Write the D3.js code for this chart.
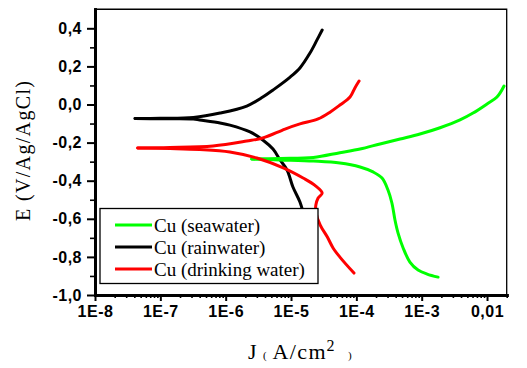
<!DOCTYPE html>
<html>
<head>
<meta charset="utf-8">
<script src="https://cdn.jsdelivr.net/npm/d3@7/dist/d3.min.js"></script>
<style>
  body { margin: 0; background: #fff; }
  .axis text { font-family: "Liberation Sans", Arial, sans-serif; font-weight: bold; font-size: 16px; letter-spacing: 0.5px; fill: #000; }
  .axis .domain { stroke: #000; stroke-width: 3; stroke-linecap: square; }
  .axis .tick line { stroke: #000; stroke-width: 2; }
  .minor .tick line { stroke-width: 1.6; }
  .curve { fill: none; stroke-width: 3; stroke-linejoin: round; stroke-linecap: round; }
  .serif { font-family: "Liberation Serif", "Times New Roman", serif; fill: #000; }
</style>
</head>
<body>
<div id="graph"></div>
<script>

// Cu (seawater): cathodic branch (from end to Ecorr) then anodic branch
var seaCathJ = [1.78e-3, 1.21e-3, 8.8e-4, 6.6e-4, 5.2e-4, 4.35e-4, 3.9e-4, 3.5e-4, 3.05e-4, 2.47e-4, 1.8e-4, 1.14e-4, 5.6e-5, 2.2e-5, 6.8e-6, 2.5e-6];
var seaCathE = [-0.906, -0.890, -0.869, -0.827, -0.753, -0.675, -0.606, -0.517, -0.449, -0.386, -0.354, -0.328, -0.307, -0.297, -0.291, -0.286];
var seaAnJ   = [2.5e-6, 6.8e-6, 2.2e-5, 5.6e-5, 1.14e-4, 2.3e-4, 4.67e-4, 9.4e-4, 1.91e-3, 3.86e-3, 6.1e-3, 1.0e-2, 1.42e-2, 1.82e-2];
var seaAnE   = [-0.286, -0.283, -0.278, -0.253, -0.234, -0.207, -0.181, -0.155, -0.122, -0.081, -0.045, 0.003, 0.039, 0.097];

// Cu (rainwater)
var rainCathJ = [1.64e-5, 1.37e-5, 1.07e-5, 8.7e-6, 6.8e-6, 5.3e-6, 3.7e-6, 2.36e-6, 1.16e-6, 8.2e-7, 4.0e-7, 3.2e-7, 9.9e-8, 4.1e-8];
var rainCathE = [-0.606, -0.512, -0.433, -0.344, -0.291, -0.234, -0.186, -0.144, -0.108, -0.097, -0.081, -0.076, -0.075, -0.074];
var rainAnJ   = [4.1e-8, 9.9e-8, 3.2e-7, 8.2e-7, 2.1e-6, 3.7e-6, 5.3e-6, 9.7e-6, 1.37e-5, 1.95e-5, 2.5e-5, 3.0e-5];
var rainAnE   = [-0.074, -0.072, -0.068, -0.045, -0.008, 0.039, 0.076, 0.144, 0.192, 0.270, 0.339, 0.391];

// Cu (drinking water)
var drinkCathJ = [9.2e-5, 5.6e-5, 4.4e-5, 3.6e-5, 2.8e-5, 2.4e-5, 2.4e-5, 2.6e-5, 3.0e-5, 2.3e-5, 1.53e-5, 7.6e-6, 3.0e-6, 1.16e-6, 4.0e-7, 1.4e-7, 4.5e-8];
var drinkCathE = [-0.885, -0.801, -0.753, -0.696, -0.633, -0.564, -0.528, -0.491, -0.465, -0.423, -0.386, -0.333, -0.281, -0.249, -0.236, -0.231, -0.228];
var drinkAnJ   = [4.5e-8, 1.4e-7, 6.4e-7, 2.1e-6, 3.7e-6, 8.1e-6, 1.37e-5, 2.6e-5, 4.0e-5, 5.6e-5, 8.0e-5, 9.5e-5, 1.1e-4];
var drinkAnE   = [-0.228, -0.226, -0.218, -0.192, -0.176, -0.129, -0.102, -0.076, -0.039, -0.003, 0.039, 0.087, 0.123];

var seriesNames  = ['Cu (seawater)', 'Cu (rainwater)', 'Cu (drinking water)'];
var seriesColors = ['#00ff00', '#000000', '#ff0000'];

var xTickValues = [1e-8, 1e-7, 1e-6, 1e-5, 1e-4, 1e-3, 1e-2];
var xTickLabels = ['1E-8', '1E-7', '1E-6', '1E-5', '1E-4', '1E-3', '0,01'];
var yTickValues = [-1.0, -0.8, -0.6, -0.4, -0.2, 0.0, 0.2, 0.4];
var yTickLabels = ['-1,0', '-0,8', '-0,6', '-0,4', '-0,2', '0,0', '0,2', '0,4'];


function zip (J, E)
{
    return J.map(function (j, i) { return { J: j, E: E[i] }; });
}

var series = [
    { branches: [zip(seaCathJ, seaCathE),     zip(seaAnJ, seaAnE)] },
    { branches: [zip(rainCathJ, rainCathE),   zip(rainAnJ, rainAnE)] },
    { branches: [zip(drinkCathJ, drinkCathE), zip(drinkAnJ, drinkAnE)] }
];

var width  = 527;
var height = 368;
var margin = { top: 9.25, right: 20.3, bottom: 73, left: 95 };

var xScale = d3.scaleLog()
               .domain([1e-8, 0.02])
               .range([margin.left, width - margin.right]);

var yScale = d3.scaleLinear()
               .domain([-1.0, 0.5])
               .range([height - margin.bottom, margin.top]);

var svg = d3.select('#graph')
            .append('svg')
            .attr('width', width)
            .attr('height', height);

// thin frame on top and right
svg.append('path')
   .attr('d', 'M' + xScale(1e-8) + ',' + yScale(0.5) + 'H' + xScale(0.02) + 'V' + yScale(-1.0))
   .attr('fill', 'none')
   .attr('stroke', '#000')
   .attr('stroke-width', 1.3);

var line = d3.line()
             .x(function (d) { return xScale(d.J); })
             .y(function (d) { return yScale(d.E); })
             .curve(d3.curveCatmullRom.alpha(0.5));

// drinking water drawn last, like the reference
[1, 0, 2].forEach(function (s)
{
    series[s].branches.forEach(function (b)
    {
        svg.append('path')
           .datum(b)
           .attr('class', 'curve')
           .attr('stroke', seriesColors[s])
           .attr('d', line);
    });
});

// legend
var legend = svg.append('g').attr('transform', 'translate(100,208.5)');

legend.append('rect')
      .attr('width', 218)
      .attr('height', 75)
      .attr('fill', '#fff')
      .attr('stroke', '#000')
      .attr('stroke-width', 1.3);

seriesNames.forEach(function (name, i)
{
    var yy = 16.5 + i * 22;
    legend.append('line')
          .attr('x1', 15).attr('x2', 52)
          .attr('y1', yy).attr('y2', yy)
          .attr('stroke', seriesColors[i])
          .attr('stroke-width', 3);
    legend.append('text')
          .attr('class', 'serif')
          .attr('x', 54)
          .attr('y', yy + 6.5)
          .attr('font-size', 19)
          .text(name);
});

// axes
var xAxis = d3.axisBottom(xScale)
              .tickValues(xTickValues)
              .tickFormat(function (d, i) { return xTickLabels[i]; })
              .tickSize(6)
              .tickPadding(5)
              .tickSizeOuter(0);

var xMinor = d3.axisBottom(xScale)
               .tickValues(xScale.ticks().filter(function (d) { return xTickValues.indexOf(d) < 0; }))
               .tickFormat('')
               .tickSize(3)
               .tickSizeOuter(0);

var yAxis = d3.axisLeft(yScale)
              .tickValues(yTickValues)
              .tickFormat(function (d, i) { return yTickLabels[i]; })
              .tickSize(8)
              .tickPadding(5)
              .tickSizeOuter(0);

var yMinor = d3.axisLeft(yScale)
               .tickValues(d3.range(-0.9, 0.45, 0.2))
               .tickFormat('')
               .tickSize(5)
               .tickSizeOuter(0);

svg.append('g')
   .attr('class', 'axis minor')
   .attr('transform', 'translate(0,' + yScale(-1.0) + ')')
   .call(xMinor);

svg.append('g')
   .attr('class', 'axis minor')
   .attr('transform', 'translate(' + xScale(1e-8) + ',0)')
   .call(yMinor);

svg.append('g')
   .attr('class', 'axis')
   .attr('transform', 'translate(0,' + yScale(-1.0) + ')')
   .call(xAxis);

svg.append('g')
   .attr('class', 'axis')
   .attr('transform', 'translate(' + xScale(1e-8) + ',0)')
   .call(yAxis);

svg.selectAll('.axis').attr('font-family', null).attr('font-size', null);

// axis titles
svg.append('text')
   .attr('class', 'serif')
   .attr('transform', 'translate(30,151) rotate(-90)')
   .attr('text-anchor', 'middle')
   .attr('font-size', 20)
   .attr('textLength', 140)
   .attr('lengthAdjust', 'spacing')
   .text('E (V/Ag/AgCl)');

var xt = svg.append('g').attr('class', 'serif');
xt.append('text').attr('class', 'serif').attr('x', 248).attr('y', 359).attr('font-size', 22).text('J');
xt.append('text').attr('class', 'serif').attr('x', 263).attr('y', 359).attr('font-size', 11).text('(');
xt.append('text').attr('class', 'serif').attr('x', 272.5).attr('y', 359).attr('font-size', 22)
  .attr('textLength', 53).attr('lengthAdjust', 'spacing').text('A/cm');
xt.append('text').attr('class', 'serif').attr('x', 326.5).attr('y', 351).attr('font-size', 16).text('2');
xt.append('text').attr('class', 'serif').attr('x', 348).attr('y', 359).attr('font-size', 11).text(')');

</script>
</body>
</html>
